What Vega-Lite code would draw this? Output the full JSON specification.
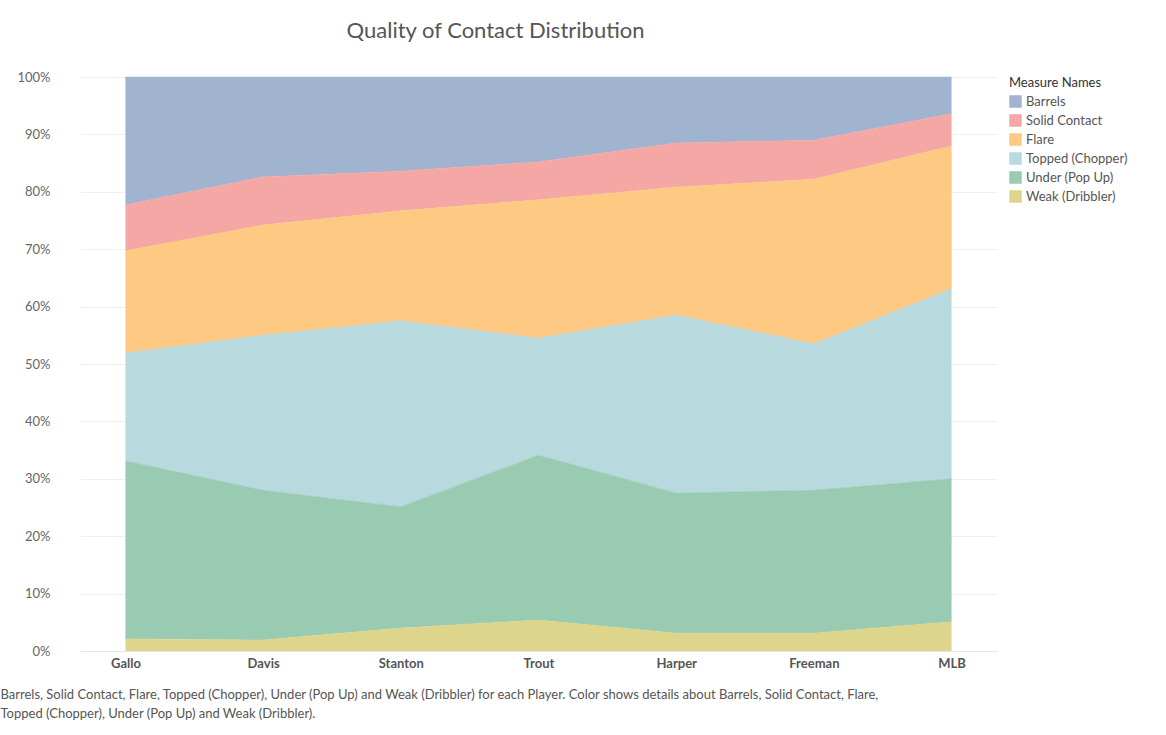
{
  "$schema": "https://vega.github.io/schema/vega-lite/v6.json",
  "width": 917,
  "height": 574,
  "padding": {"left": 0, "top": 20, "right": 0, "bottom": 10},
  "background": "white",
  "title": {"text": "Quality of Contact Distribution", "fontSize": 22, "font": "Lato", "fontWeight": "normal", "color": "#555", "anchor": "middle", "dx": -43, "offset": 28},
  "data": {"values": [
    {"Player": "Gallo", "Measure": "Barrels", "o": 6, "v": 22.3},
    {"Player": "Gallo", "Measure": "Solid Contact", "o": 5, "v": 8.0},
    {"Player": "Gallo", "Measure": "Flare", "o": 4, "v": 17.8},
    {"Player": "Gallo", "Measure": "Topped (Chopper)", "o": 3, "v": 18.8},
    {"Player": "Gallo", "Measure": "Under (Pop Up)", "o": 2, "v": 31.0},
    {"Player": "Gallo", "Measure": "Weak (Dribbler)", "o": 1, "v": 2.1},
    {"Player": "Davis", "Measure": "Barrels", "o": 6, "v": 17.4},
    {"Player": "Davis", "Measure": "Solid Contact", "o": 5, "v": 8.4},
    {"Player": "Davis", "Measure": "Flare", "o": 4, "v": 19.2},
    {"Player": "Davis", "Measure": "Topped (Chopper)", "o": 3, "v": 27.0},
    {"Player": "Davis", "Measure": "Under (Pop Up)", "o": 2, "v": 26.1},
    {"Player": "Davis", "Measure": "Weak (Dribbler)", "o": 1, "v": 1.9},
    {"Player": "Stanton", "Measure": "Barrels", "o": 6, "v": 16.4},
    {"Player": "Stanton", "Measure": "Solid Contact", "o": 5, "v": 6.9},
    {"Player": "Stanton", "Measure": "Flare", "o": 4, "v": 19.2},
    {"Player": "Stanton", "Measure": "Topped (Chopper)", "o": 3, "v": 32.4},
    {"Player": "Stanton", "Measure": "Under (Pop Up)", "o": 2, "v": 21.1},
    {"Player": "Stanton", "Measure": "Weak (Dribbler)", "o": 1, "v": 4.0},
    {"Player": "Trout", "Measure": "Barrels", "o": 6, "v": 14.8},
    {"Player": "Trout", "Measure": "Solid Contact", "o": 5, "v": 6.6},
    {"Player": "Trout", "Measure": "Flare", "o": 4, "v": 24.1},
    {"Player": "Trout", "Measure": "Topped (Chopper)", "o": 3, "v": 20.4},
    {"Player": "Trout", "Measure": "Under (Pop Up)", "o": 2, "v": 28.7},
    {"Player": "Trout", "Measure": "Weak (Dribbler)", "o": 1, "v": 5.4},
    {"Player": "Harper", "Measure": "Barrels", "o": 6, "v": 11.5},
    {"Player": "Harper", "Measure": "Solid Contact", "o": 5, "v": 7.7},
    {"Player": "Harper", "Measure": "Flare", "o": 4, "v": 22.3},
    {"Player": "Harper", "Measure": "Topped (Chopper)", "o": 3, "v": 31.0},
    {"Player": "Harper", "Measure": "Under (Pop Up)", "o": 2, "v": 24.4},
    {"Player": "Harper", "Measure": "Weak (Dribbler)", "o": 1, "v": 3.1},
    {"Player": "Freeman", "Measure": "Barrels", "o": 6, "v": 11.0},
    {"Player": "Freeman", "Measure": "Solid Contact", "o": 5, "v": 6.8},
    {"Player": "Freeman", "Measure": "Flare", "o": 4, "v": 28.7},
    {"Player": "Freeman", "Measure": "Topped (Chopper)", "o": 3, "v": 25.5},
    {"Player": "Freeman", "Measure": "Under (Pop Up)", "o": 2, "v": 24.9},
    {"Player": "Freeman", "Measure": "Weak (Dribbler)", "o": 1, "v": 3.1},
    {"Player": "MLB", "Measure": "Barrels", "o": 6, "v": 6.4},
    {"Player": "MLB", "Measure": "Solid Contact", "o": 5, "v": 5.6},
    {"Player": "MLB", "Measure": "Flare", "o": 4, "v": 24.9},
    {"Player": "MLB", "Measure": "Topped (Chopper)", "o": 3, "v": 33.1},
    {"Player": "MLB", "Measure": "Under (Pop Up)", "o": 2, "v": 24.9},
    {"Player": "MLB", "Measure": "Weak (Dribbler)", "o": 1, "v": 5.1}
  ]},
  "mark": {"type": "area", "opacity": 1, "line": {"strokeWidth": 1.2, "opacity": 0.5}},
  "encoding": {
    "x": {"field": "Player", "type": "nominal", "sort": ["Gallo","Davis","Stanton","Trout","Harper","Freeman","MLB"],
      "scale": {"type": "point", "padding": 0.33},
      "axis": {"labelAngle": 0, "labelFont": "Lato", "labelFontSize": 13, "labelFontWeight": "bold", "labelColor": "#555", "ticks": false, "domainColor": "#e6e6e6", "labelPadding": 6,
        "title": ["Barrels, Solid Contact, Flare, Topped (Chopper), Under (Pop Up) and Weak (Dribbler) for each Player.  Color shows details about Barrels, Solid Contact, Flare,", "Topped (Chopper), Under (Pop Up) and Weak (Dribbler)."],
        "titleFont": "Lato", "titleFontSize": 13, "titleFontWeight": "normal", "titleColor": "#555", "titleAnchor": "start", "titleAlign": "left", "titleX": -80, "titlePadding": 18, "titleLineHeight": 19}},
    "y": {"field": "v", "type": "quantitative", "stack": "normalize",
      "scale": {"domain": [0, 1]},
      "axis": {"format": ".0%", "title": null, "tickCount": 10, "labelFont": "Lato", "labelFontSize": 13, "labelColor": "#666", "ticks": false, "domain": false, "gridColor": "#f0f0f0", "labelPadding": 30}},
    "color": {"field": "Measure", "type": "nominal",
      "scale": {"domain": ["Barrels","Solid Contact","Flare","Topped (Chopper)","Under (Pop Up)","Weak (Dribbler)"],
        "range": ["#a0b4d0","#f4a7a4","#fec982","#b8d9de","#98cbb2","#ddd58c"]},
      "legend": {"title": "Measure Names", "titleFont": "Lato", "titleFontSize": 13, "titleFontWeight": "normal", "titleColor": "#333", "labelFont": "Lato", "labelFontSize": 13, "labelColor": "#555", "labelLimit": 200, "symbolType": "square", "symbolSize": 120, "symbolOpacity": 1, "offset": 12, "rowPadding": 2}},
    "order": {"field": "o", "type": "quantitative"}
  },
  "config": {"view": {"stroke": null}}
}
